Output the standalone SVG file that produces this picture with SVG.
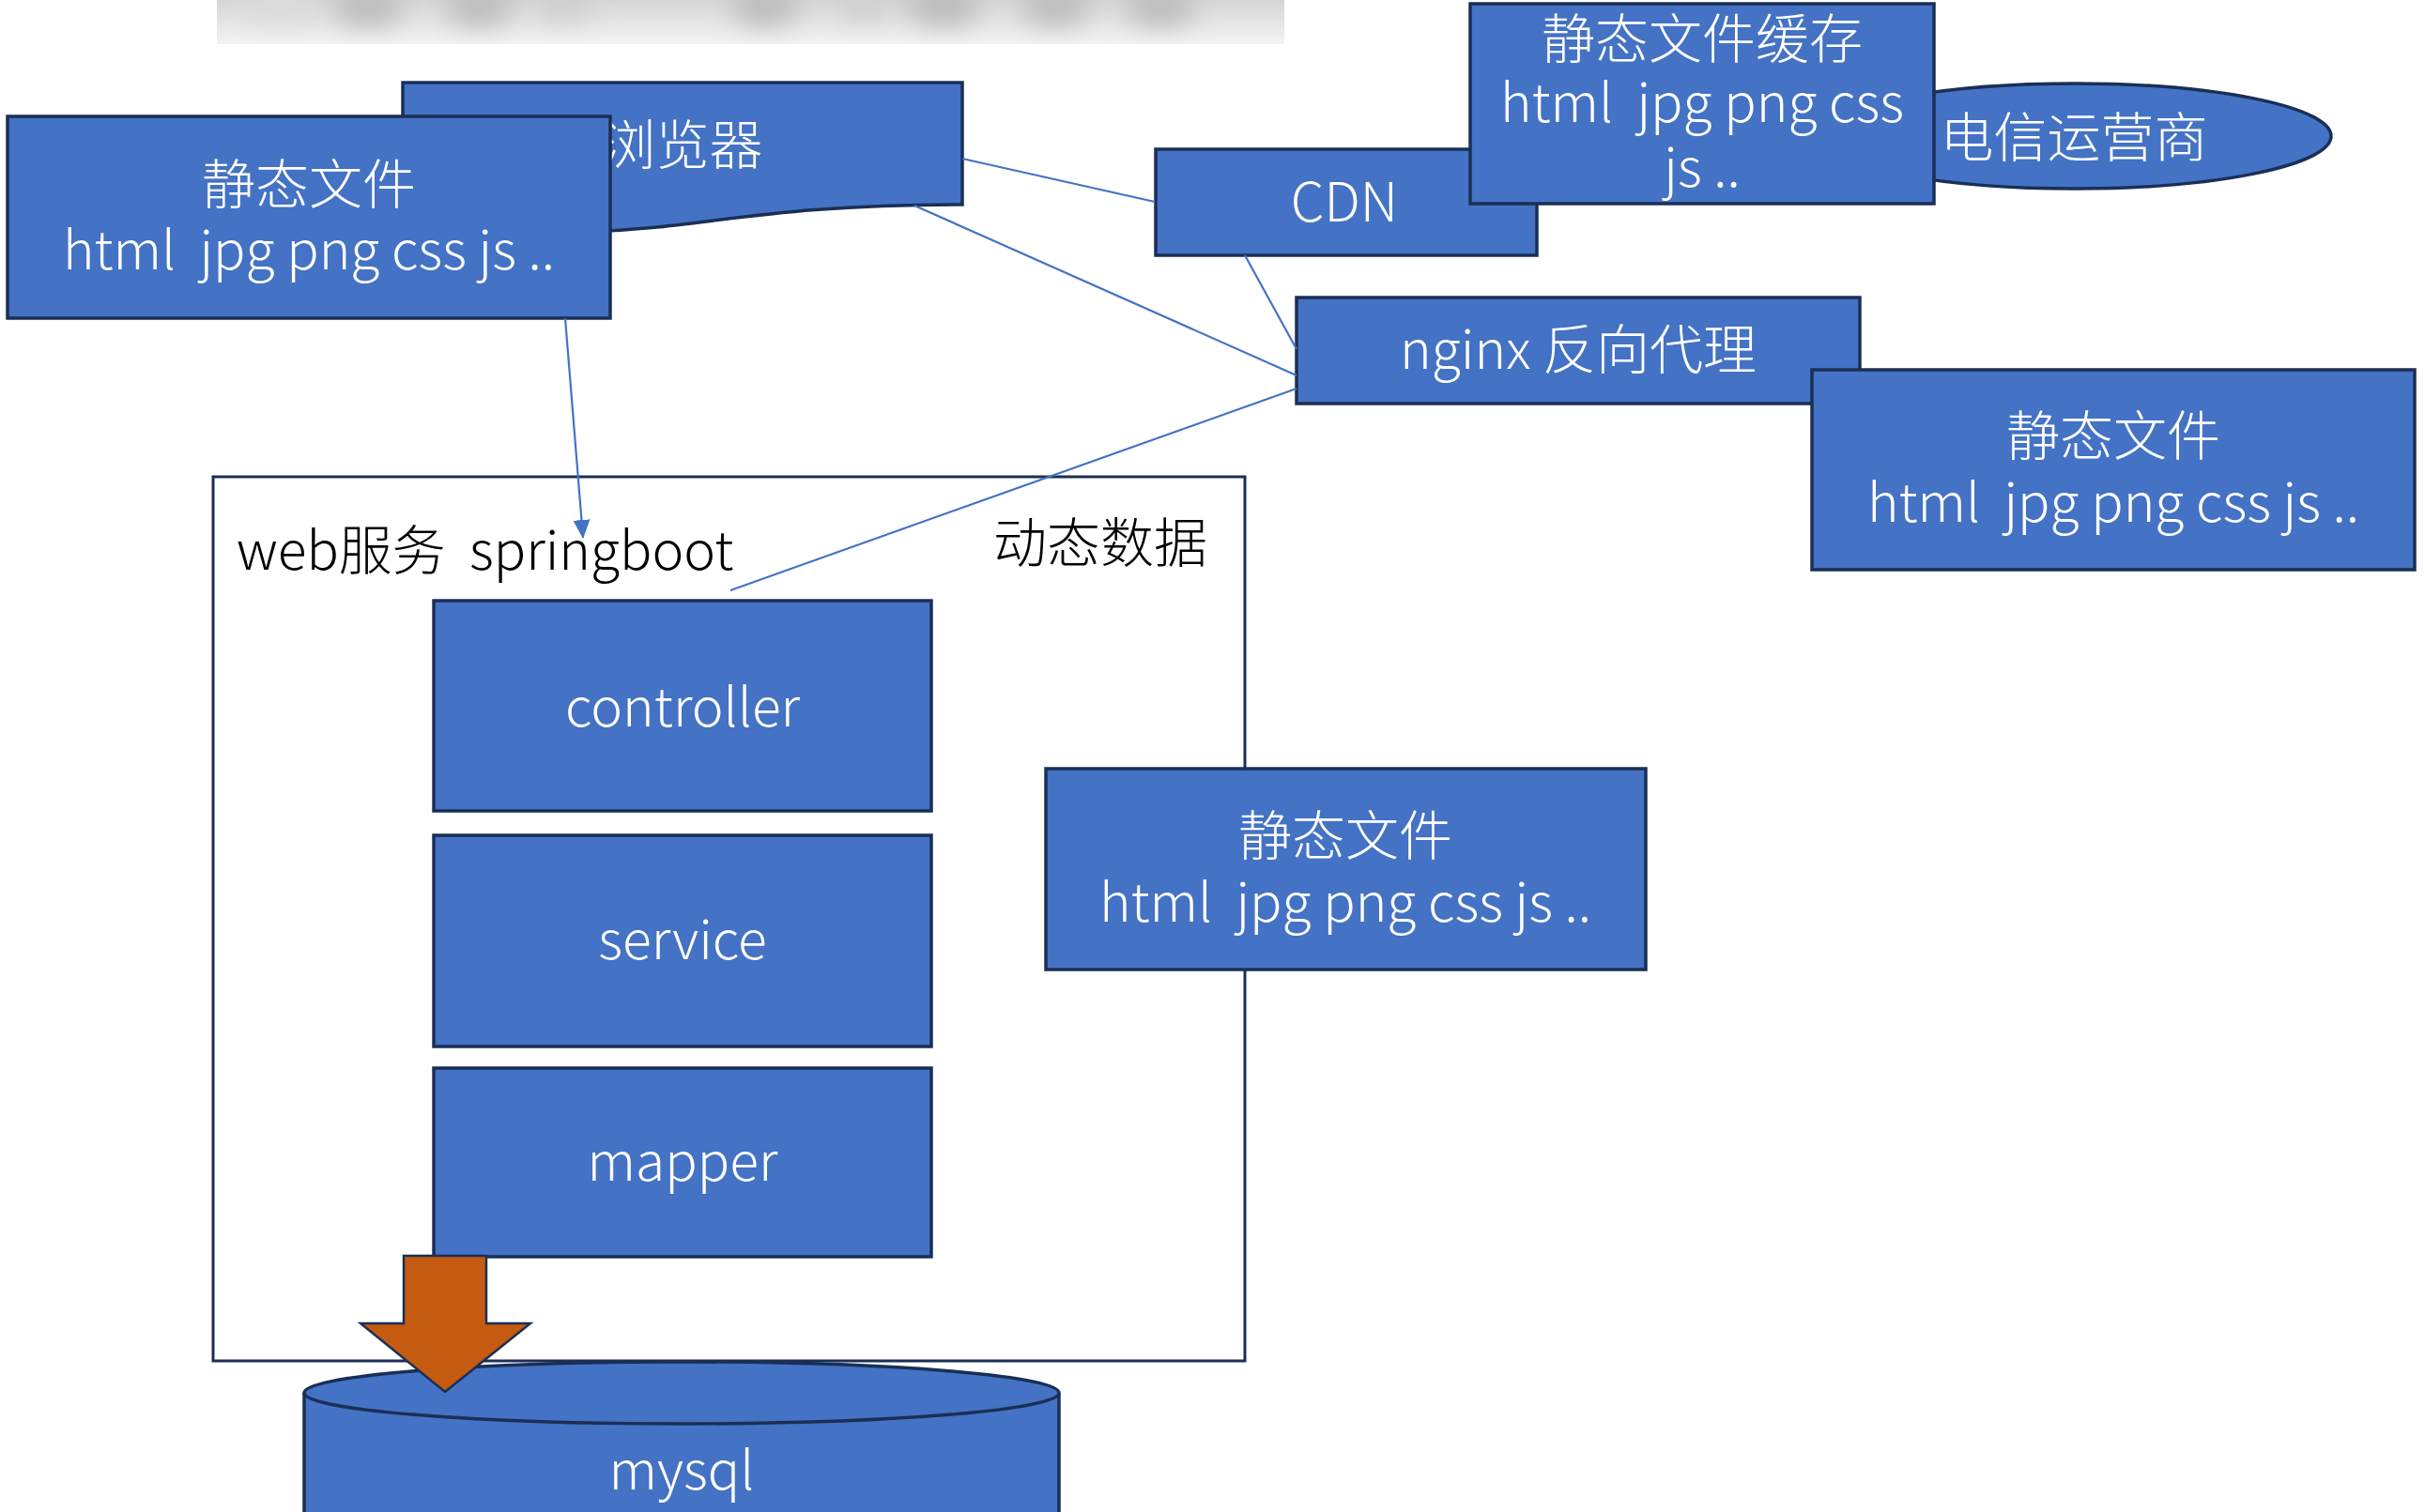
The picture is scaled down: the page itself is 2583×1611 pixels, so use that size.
<svg xmlns="http://www.w3.org/2000/svg" width="2583" height="1611" viewBox="0 0 2583 1611">
<defs>
<style>
.box{fill:#4472C4;stroke:#1A2F55;stroke-width:3.5}
.t{font-family:"Noto Sans CJK SC","Noto Sans",sans-serif;font-size:57px;font-weight:300;fill:#FFFFFF;white-space:pre}
.tc{text-anchor:middle}
.dark{fill:#000000}
.conn{stroke:#4472C4;stroke-width:2.2;fill:none}
</style>
<marker id="ah" markerWidth="20" markerHeight="20" refX="19" refY="10" orient="auto" markerUnits="userSpaceOnUse" viewBox="0 0 20 20">
<path d="M0,1 L20,10 L0,19 Z" fill="#4472C4"/>
</marker>
<linearGradient id="bg" x1="0" y1="0" x2="0" y2="1">
<stop offset="0" stop-color="#d6d6d6"/>
<stop offset="1" stop-color="#f3f3f3"/>
</linearGradient>
<filter id="blur" x="-20%" y="-50%" width="140%" height="200%">
<feGaussianBlur stdDeviation="14"/>
</filter>
<clipPath id="bclip"><rect x="231" y="0" width="1137" height="47"/></clipPath>
</defs>

<g id="blurbar" clip-path="url(#bclip)">
<rect x="231" y="0" width="1137" height="47" fill="url(#bg)"/>
<g filter="url(#blur)" fill="#bcbcbc">
<ellipse cx="300" cy="6" rx="40" ry="18" fill="#dcdcdc"/>
<ellipse cx="392" cy="6" rx="38" ry="22"/>
<ellipse cx="510" cy="6" rx="36" ry="22"/>
<ellipse cx="600" cy="6" rx="30" ry="16" fill="#cdcdcd"/>
<ellipse cx="815" cy="6" rx="36" ry="22"/>
<ellipse cx="920" cy="6" rx="30" ry="16" fill="#cfcfcf"/>
<ellipse cx="1005" cy="6" rx="40" ry="22"/>
<ellipse cx="1124" cy="6" rx="36" ry="22"/>
<ellipse cx="1236" cy="6" rx="38" ry="22"/>
</g>
</g>

<g id="carrier">
<ellipse class="box" cx="2210" cy="145" rx="273" ry="56"/>
<text class="t tc" x="2209" y="167">电信运营商</text>
</g>

<g id="cdn">
<rect class="box" x="1231" y="159" width="406" height="113"/>
<text class="t tc" x="1432" y="236">CDN</text>
</g>

<g id="cdn-cache">
<rect class="box" x="1566" y="4" width="494" height="213"/>
<text class="t tc" x="1813" y="62">静态文件缓存</text>
<text class="t tc" x="1813" y="130">html  jpg png css</text>
<text class="t tc" x="1813" y="199">js ..</text>
</g>

<g id="browser">
<path class="box" d="M429,88 H1025 V218 C727,218 727,267 429,239 Z"/>
<text class="t tc" x="727" y="175">浏览器</text>
</g>

<g id="static-browser">
<rect class="box" x="8" y="124" width="642" height="215"/>
<text class="t tc" x="329" y="217">静态文件</text>
<text class="t tc" x="329" y="287">html  jpg png css js ..</text>
</g>

<g id="nginx">
<rect class="box" x="1381" y="317" width="600" height="113"/>
<text class="t tc" x="1681" y="393">nginx 反向代理</text>
</g>

<g id="static-nginx">
<rect class="box" x="1930" y="394" width="642" height="213"/>
<text class="t tc" x="2251" y="485">静态文件</text>
<text class="t tc" x="2251" y="556">html  jpg png css js ..</text>
</g>

<g id="web">
<rect x="227" y="508" width="1099" height="942" fill="#FFFFFF" stroke="#1A2F55" stroke-width="3"/>
<text class="t dark" x="252" y="607">web服务  springboot</text>
<text class="t dark" x="1058" y="599">动态数据</text>
</g>

<g id="controller">
<rect class="box" x="462" y="640" width="530" height="224"/>
<text class="t tc" x="727" y="774">controller</text>
</g>
<g id="service">
<rect class="box" x="462" y="890" width="530" height="225"/>
<text class="t tc" x="727" y="1022">service</text>
</g>
<g id="mapper">
<rect class="box" x="462" y="1138" width="530" height="201"/>
<text class="t tc" x="727" y="1258">mapper</text>
</g>

<g id="static-web">
<rect class="box" x="1114" y="819" width="639" height="214"/>
<text class="t tc" x="1433" y="911">静态文件</text>
<text class="t tc" x="1433" y="982">html  jpg png css js ..</text>
</g>

<g id="mysql">
<path class="box" d="M324,1484 V1625 H1128 V1484"/>
<ellipse class="box" cx="726" cy="1484" rx="402" ry="33"/>
<text class="t tc" x="726" y="1587">mysql</text>
</g>

<g id="db-arrow">
<polygon points="430,1338 518,1338 518,1410 565,1410 474,1483 384,1410 430,1410" fill="#C55A11" stroke="#1A2F55" stroke-width="2.5" stroke-linejoin="miter"/>
</g>

<g id="connectors">
<line class="conn" x1="1025" y1="169" x2="1230" y2="215"/>
<line class="conn" x1="974" y1="219" x2="1381" y2="400"/>
<line class="conn" x1="1326" y1="272" x2="1381" y2="372"/>
<line class="conn" x1="1381" y1="414" x2="778" y2="629"/>
<line class="conn" x1="602" y1="339" x2="621" y2="573" marker-end="url(#ah)"/>
</g>
</svg>
